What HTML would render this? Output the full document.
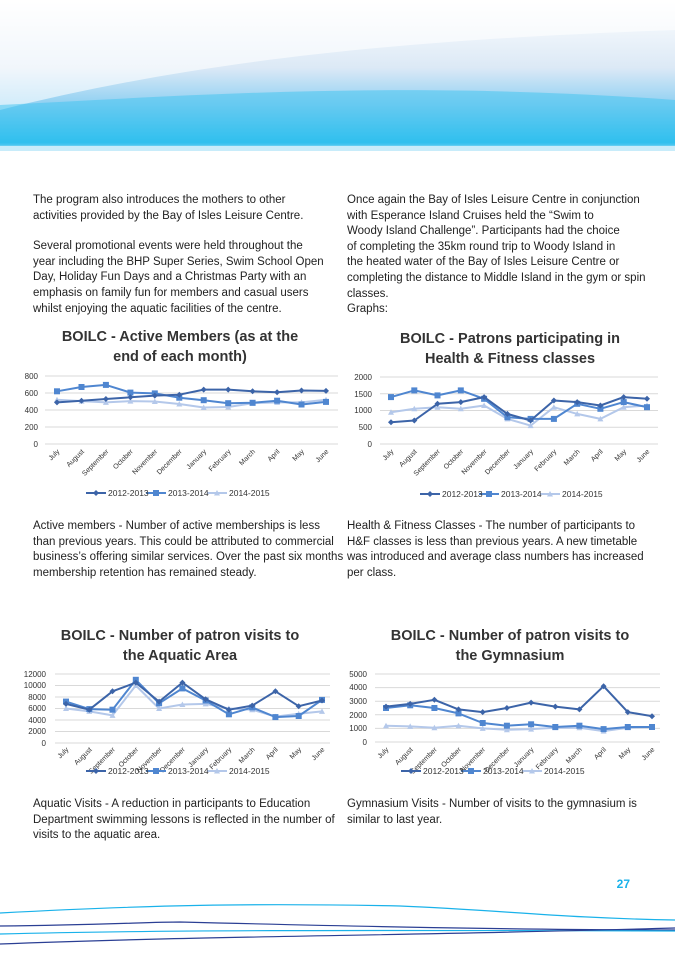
<!DOCTYPE html>
<html><head><meta charset="utf-8"><style>
body{margin:0;width:675px;height:954px;position:relative;background:#fff;font-family:"Liberation Sans",sans-serif;overflow:hidden}
.t{position:absolute;font-size:11.5px;line-height:15.6px;color:#222;white-space:nowrap}
.t p{margin:0 0 15px 0}
</style></head><body>
<svg width="675" height="954" style="position:absolute;left:0;top:0">
<defs>
<linearGradient id="hg" x1="0" y1="0" x2="0" y2="1">
<stop offset="0" stop-color="#fff"/><stop offset="0.45" stop-color="#dce9f6"/><stop offset="0.7" stop-color="#8fd0f2"/><stop offset="0.95" stop-color="#22bced"/><stop offset="1" stop-color="#bfe6f8"/></linearGradient>
<marker id="d" markerWidth="8" markerHeight="8" refX="4" refY="4" markerUnits="userSpaceOnUse"><path d="M4 1L7 4 4 7 1 4Z" fill="#3c64a8"/></marker>
<marker id="s" markerWidth="8" markerHeight="8" refX="4" refY="4" markerUnits="userSpaceOnUse"><rect x="1" y="1" width="6" height="6" fill="#4f86d0"/></marker>
<marker id="tr" markerWidth="8" markerHeight="8" refX="4" refY="4" markerUnits="userSpaceOnUse"><path d="M4 1L7 6.5 1 6.5Z" fill="#b4c8ea"/></marker>
</defs>
<path d="M0 0H675V150H0Z" fill="url(#hg)"/>
<path d="M0 110 C200 60 400 40 675 30 V0 H0Z" fill="#fff" opacity="0.6"/>
<path d="M0 105 C200 95 400 80 675 100 V145 H0Z" fill="#3ec3ef" opacity="0.5"/>
<rect x="0" y="146" width="675" height="5" fill="#c8ecfa"/>
<g fill="none" stroke-width="1.2">
<path d="M0 913 C150 905 250 903 400 906 C500 910 560 918 675 920" stroke="#1ab2ea"/>
<path d="M0 926 C100 925 150 922 180 922 C300 925 500 930 675 930" stroke="#2b3f94"/>
<path d="M0 934 C150 930 350 930 675 931" stroke="#1ab2ea"/>
<path d="M0 944 C200 936 400 936 675 928" stroke="#2b3f94"/>
</g>
<text x="630" y="888" font-size="12" font-weight="bold" fill="#1ab2ea" text-anchor="end">27</text>

<g font-family="Liberation Sans,sans-serif" font-weight="bold" font-size="14.5" fill="#333" text-anchor="middle">
<text x="180" y="341">BOILC - Active Members (as at the</text><text x="180" y="361">end of each month)</text>
<text x="510" y="343">BOILC - Patrons participating in</text><text x="510" y="363">Health &amp; Fitness classes</text>
<text x="180" y="640">BOILC - Number of patron visits to</text><text x="180" y="660">the Aquatic Area</text>
<text x="510" y="640">BOILC - Number of patron visits to</text><text x="510" y="660">the Gymnasium</text>
</g>

<g stroke="#d9d9d9" stroke-width="1">
<path d="M45 376H338M45 393H338M45 410H338M45 427H338M45 444H338"/>
<path d="M380 377H658M380 393.8H658M380 410.5H658M380 427.3H658M380 444H658"/>
<path d="M55 674H330M55 685.5H330M55 697H330M55 708.5H330M55 720H330M55 731.5H330M55 743H330"/>
<path d="M375 674H660M375 687.6H660M375 701.2H660M375 714.8H660M375 728.4H660M375 742H660"/>
</g>
<g font-size="8" fill="#333" text-anchor="end">
<text x="38" y="379">800</text><text x="38" y="396">600</text><text x="38" y="413">400</text><text x="38" y="430">200</text><text x="38" y="447">0</text>
<text x="372" y="380">2000</text><text x="372" y="397">1500</text><text x="372" y="413">1000</text><text x="372" y="430">500</text><text x="372" y="447">0</text>
<text x="46" y="677">12000</text><text x="46" y="688">10000</text><text x="46" y="700">8000</text><text x="46" y="711">6000</text><text x="46" y="723">4000</text><text x="46" y="734">2000</text><text x="46" y="746">0</text>
<text x="367" y="677">5000</text><text x="367" y="690">4000</text><text x="367" y="704">3000</text><text x="367" y="718">2000</text><text x="367" y="731">1000</text><text x="367" y="745">0</text>
</g>
<g font-size="7" fill="#333" text-anchor="end">
<g transform="translate(0,452)">
<text transform="translate(60,0) rotate(-45)">July</text><text transform="translate(84.5,0) rotate(-45)">August</text><text transform="translate(109,0) rotate(-45)">September</text><text transform="translate(133.4,0) rotate(-45)">October</text><text transform="translate(157.8,0) rotate(-45)">November</text><text transform="translate(182.3,0) rotate(-45)">December</text><text transform="translate(206.7,0) rotate(-45)">January</text><text transform="translate(231.2,0) rotate(-45)">February</text><text transform="translate(255.6,0) rotate(-45)">March</text><text transform="translate(280.1,0) rotate(-45)">April</text><text transform="translate(304.5,0) rotate(-45)">May</text><text transform="translate(329,0) rotate(-45)">June</text>
<text transform="translate(394,0) rotate(-45)">July</text><text transform="translate(417.3,0) rotate(-45)">August</text><text transform="translate(440.5,0) rotate(-45)">September</text><text transform="translate(463.8,0) rotate(-45)">October</text><text transform="translate(487.1,0) rotate(-45)">November</text><text transform="translate(510.4,0) rotate(-45)">December</text><text transform="translate(533.6,0) rotate(-45)">January</text><text transform="translate(556.9,0) rotate(-45)">February</text><text transform="translate(580.2,0) rotate(-45)">March</text><text transform="translate(603.4,0) rotate(-45)">April</text><text transform="translate(626.7,0) rotate(-45)">May</text><text transform="translate(650,0) rotate(-45)">June</text>
</g>
<g transform="translate(0,750)">
<text transform="translate(69,0) rotate(-45)">July</text><text transform="translate(92.3,0) rotate(-45)">August</text><text transform="translate(115.5,0) rotate(-45)">September</text><text transform="translate(138.8,0) rotate(-45)">October</text><text transform="translate(162.1,0) rotate(-45)">November</text><text transform="translate(185.4,0) rotate(-45)">December</text><text transform="translate(208.6,0) rotate(-45)">January</text><text transform="translate(231.9,0) rotate(-45)">February</text><text transform="translate(255.2,0) rotate(-45)">March</text><text transform="translate(278.4,0) rotate(-45)">April</text><text transform="translate(301.7,0) rotate(-45)">May</text><text transform="translate(325,0) rotate(-45)">June</text>
<text transform="translate(389,0) rotate(-45)">July</text><text transform="translate(413.2,0) rotate(-45)">August</text><text transform="translate(437.4,0) rotate(-45)">September</text><text transform="translate(461.5,0) rotate(-45)">October</text><text transform="translate(485.7,0) rotate(-45)">November</text><text transform="translate(509.9,0) rotate(-45)">December</text><text transform="translate(534.1,0) rotate(-45)">January</text><text transform="translate(558.3,0) rotate(-45)">February</text><text transform="translate(582.4,0) rotate(-45)">March</text><text transform="translate(606.6,0) rotate(-45)">April</text><text transform="translate(630.8,0) rotate(-45)">May</text><text transform="translate(655,0) rotate(-45)">June</text>
</g></g>

<g fill="none" stroke-width="2" stroke-linejoin="round">
<polyline stroke="#b4c8ea" marker-start="url(#tr)" marker-mid="url(#tr)" marker-end="url(#tr)" points="57,399.8 81.5,401.1 105.9,402.4 130.4,401.1 154.8,401.5 179.3,404 203.7,407.5 228.2,407 252.6,403.2 277.1,402.4 301.5,402.4 326,399.8"/>
<polyline stroke="#4f86d0" marker-start="url(#s)" marker-mid="url(#s)" marker-end="url(#s)" points="57,391.3 81.5,387 105.9,384.9 130.4,392.6 154.8,393.4 179.3,397.7 203.7,400.2 228.2,403.2 252.6,402.8 277.1,400.7 301.5,404.5 326,401.9"/>
<polyline stroke="#3c64a8" marker-start="url(#d)" marker-mid="url(#d)" marker-end="url(#d)" points="57,402.4 81.5,400.7 105.9,399 130.4,397.3 154.8,395.6 179.3,394.7 203.7,389.6 228.2,389.6 252.6,391.3 277.1,392.2 301.5,390.5 326,390.9"/>

<polyline stroke="#b4c8ea" marker-start="url(#tr)" marker-mid="url(#tr)" marker-end="url(#tr)" points="391,412.2 414.3,408.8 437.5,407.2 460.8,408.8 484.1,405.5 507.4,418.9 530.6,425.6 553.9,407.2 577.2,413.9 600.4,418.9 623.7,407.2 647,405.5"/>
<polyline stroke="#4f86d0" marker-start="url(#s)" marker-mid="url(#s)" marker-end="url(#s)" points="391,397.1 414.3,390.4 437.5,395.4 460.8,390.4 484.1,398.8 507.4,417.2 530.6,418.9 553.9,418.9 577.2,403.8 600.4,408.8 623.7,402.1 647,407.2"/>
<polyline stroke="#3c64a8" marker-start="url(#d)" marker-mid="url(#d)" marker-end="url(#d)" points="391,422.2 414.3,420.5 437.5,403.8 460.8,402.1 484.1,397.1 507.4,413.9 530.6,420.5 553.9,400.5 577.2,402.1 600.4,405.5 623.7,397.1 647,398.8"/>

<polyline stroke="#b4c8ea" marker-start="url(#tr)" marker-mid="url(#tr)" marker-end="url(#tr)" points="66,708.5 89.3,711.4 112.5,715.4 135.8,685.5 159.1,708.5 182.4,704.5 205.6,703.9 228.9,708.5 252.2,709.7 275.4,716.6 298.7,713.7 322,711.4"/>
<polyline stroke="#4f86d0" marker-start="url(#s)" marker-mid="url(#s)" marker-end="url(#s)" points="66,701.6 89.3,709.1 112.5,709.7 135.8,679.8 159.1,703.3 182.4,688.4 205.6,700.5 228.9,714.3 252.2,707.4 275.4,717.1 298.7,716 322,699.9"/>
<polyline stroke="#3c64a8" marker-start="url(#d)" marker-mid="url(#d)" marker-end="url(#d)" points="66,703.9 89.3,709.7 112.5,691.3 135.8,682.6 159.1,701.6 182.4,682.6 205.6,699.3 228.9,709.7 252.2,705.6 275.4,691.3 298.7,706.2 322,700.5"/>

<polyline stroke="#b4c8ea" marker-start="url(#tr)" marker-mid="url(#tr)" marker-end="url(#tr)" points="386,725.7 410.2,726.4 434.4,727.7 458.5,725.7 482.7,728.4 506.9,729.8 531.1,729.1 555.3,727.7 579.4,727.7 603.6,731.1 627.8,727.7 652,727"/>
<polyline stroke="#4f86d0" marker-start="url(#s)" marker-mid="url(#s)" marker-end="url(#s)" points="386,708 410.2,705.3 434.4,708 458.5,713.4 482.7,723 506.9,725.7 531.1,724.3 555.3,727 579.4,725.7 603.6,729.1 627.8,727 652,727"/>
<polyline stroke="#3c64a8" marker-start="url(#d)" marker-mid="url(#d)" marker-end="url(#d)" points="386,706.6 410.2,703.9 434.4,699.8 458.5,709.4 482.7,712.1 506.9,708 531.1,702.6 555.3,706.6 579.4,709.4 603.6,686.2 627.8,712.1 652,716.2"/>

<path d="M86 493H106" stroke="#3c64a8"/><path d="M146 493H166" stroke="#4f86d0"/><path d="M207 493H227" stroke="#b4c8ea"/>
<path d="M420 494H440" stroke="#3c64a8"/><path d="M479 494H499" stroke="#4f86d0"/><path d="M540 494H560" stroke="#b4c8ea"/>
<path d="M86 771H106" stroke="#3c64a8"/><path d="M146 771H166" stroke="#4f86d0"/><path d="M207 771H227" stroke="#b4c8ea"/>
<path d="M401 771H421" stroke="#3c64a8"/><path d="M461 771H481" stroke="#4f86d0"/><path d="M522 771H542" stroke="#b4c8ea"/>
</g>
<g>
<path d="M96 490L99 493 96 496 93 493Z" fill="#3c64a8"/><rect x="153" y="490" width="6" height="6" fill="#4f86d0"/><path d="M217 490L220 495.5 214 495.5Z" fill="#b4c8ea"/>
<path d="M430 491L433 494 430 497 427 494Z" fill="#3c64a8"/><rect x="486" y="491" width="6" height="6" fill="#4f86d0"/><path d="M550 491L553 496.5 547 496.5Z" fill="#b4c8ea"/>
<path d="M96 768L99 771 96 774 93 771Z" fill="#3c64a8"/><rect x="153" y="768" width="6" height="6" fill="#4f86d0"/><path d="M217 768L220 773.5 214 773.5Z" fill="#b4c8ea"/>
<path d="M411 768L414 771 411 774 408 771Z" fill="#3c64a8"/><rect x="468" y="768" width="6" height="6" fill="#4f86d0"/><path d="M532 768L535 773.5 529 773.5Z" fill="#b4c8ea"/>
</g>
<g font-size="8.5" fill="#333">
<text x="108" y="496">2012-2013</text><text x="168" y="496">2013-2014</text><text x="229" y="496">2014-2015</text>
<text x="442" y="497">2012-2013</text><text x="501" y="497">2013-2014</text><text x="562" y="497">2014-2015</text>
<text x="108" y="774">2012-2013</text><text x="168" y="774">2013-2014</text><text x="229" y="774">2014-2015</text>
<text x="423" y="774">2012-2013</text><text x="483" y="774">2013-2014</text><text x="544" y="774">2014-2015</text>
</g>
</svg>

<div class="t" style="left:33px;top:193px">
<p>The program also introduces the mothers to other<br>activities provided by the Bay of Isles Leisure Centre.</p>
<p>Several promotional events were held throughout the<br>year including the BHP Super Series, Swim School Open<br>Day, Holiday Fun Days and a Christmas Party with an<br>emphasis on family fun for members and casual users<br>whilst enjoying the aquatic facilities of the centre.</p>
</div>
<div class="t" style="left:347px;top:193px">
<p>Once again the Bay of Isles Leisure Centre in conjunction<br>with Esperance Island Cruises held the “Swim to<br>Woody Island Challenge”. Participants had the choice<br>of completing the 35km round trip to Woody Island in<br>the heated water of the Bay of Isles Leisure Centre or<br>completing the distance to Middle Island in the gym or spin<br>classes.<br>Graphs:</p>
</div>
<div class="t" style="left:33px;top:519px">Active members - Number of active memberships is less<br>than previous years. This could be attributed to commercial<br>business’s offering similar services. Over the past six months<br>membership retention has remained steady.</div>
<div class="t" style="left:347px;top:519px">Health &amp; Fitness Classes - The number of participants to<br>H&amp;F classes is less than previous years. A new timetable<br>was introduced and average class numbers has increased<br>per class.</div>
<div class="t" style="left:33px;top:797px">Aquatic Visits - A reduction in participants to Education<br>Department swimming lessons is reflected in the number of<br>visits to the aquatic area.</div>
<div class="t" style="left:347px;top:797px">Gymnasium Visits - Number of visits to the gymnasium is<br>similar to last year.</div>
</body></html>
